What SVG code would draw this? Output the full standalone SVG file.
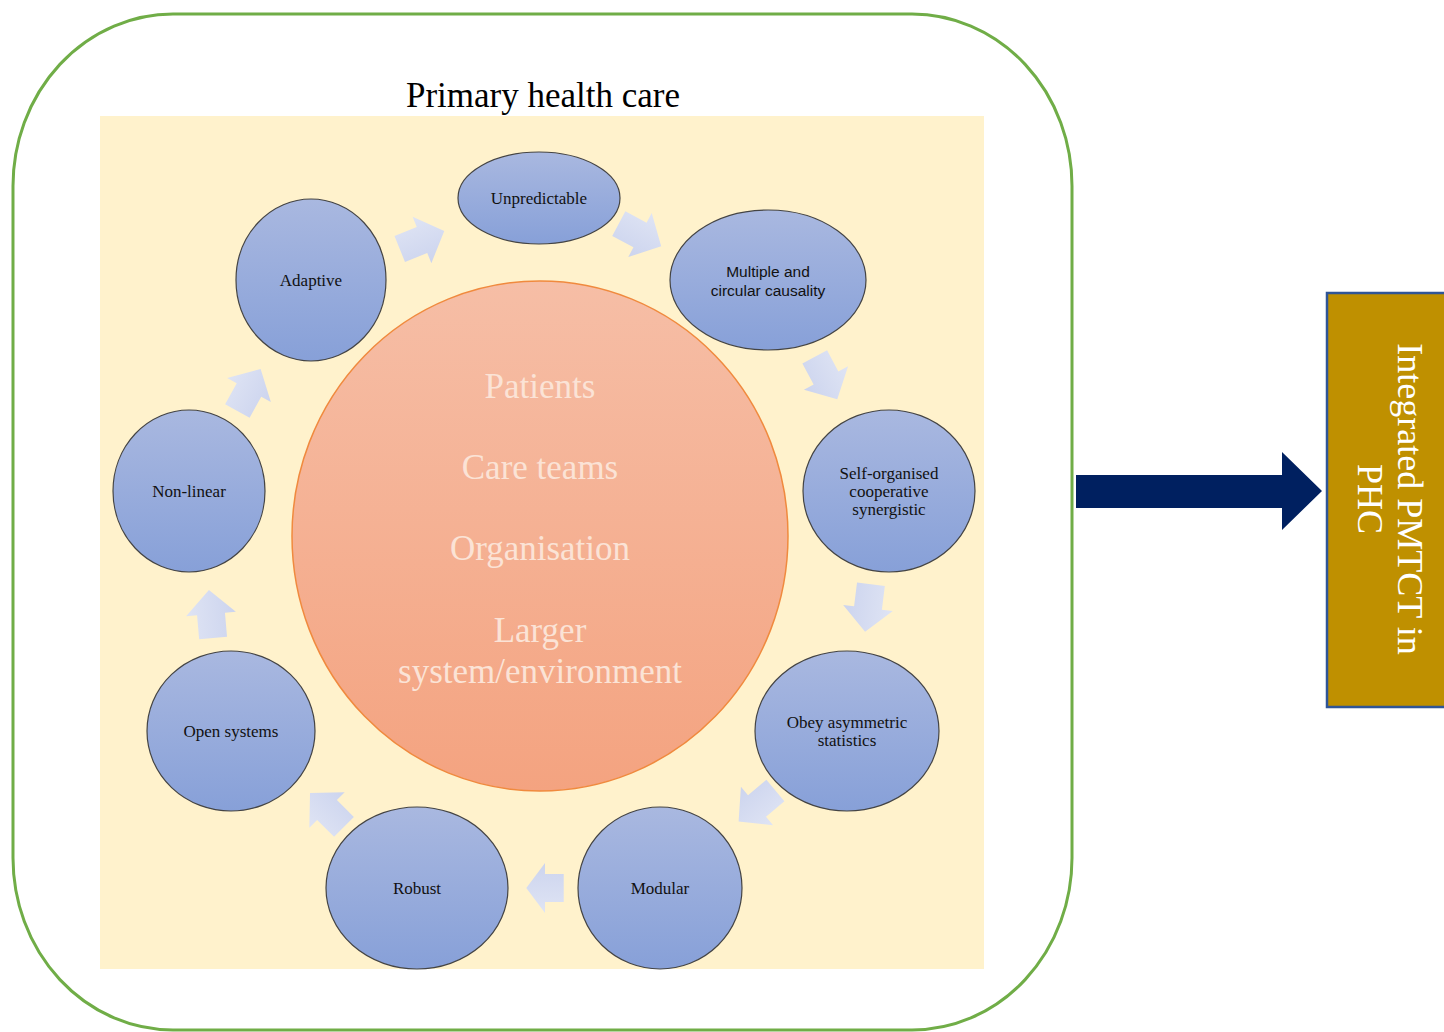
<svg xmlns="http://www.w3.org/2000/svg" width="1444" height="1032" viewBox="0 0 1444 1032">
<defs>
<linearGradient id="gBlue" x1="0" y1="0" x2="0" y2="1">
<stop offset="0" stop-color="#A9B8E0"/>
<stop offset="1" stop-color="#87A0D8"/>
</linearGradient>
<linearGradient id="gCore" x1="0" y1="0" x2="0" y2="1">
<stop offset="0" stop-color="#F6BEA6"/>
<stop offset="1" stop-color="#F4A380"/>
</linearGradient>
<linearGradient id="gArrow" x1="0" y1="0" x2="0" y2="1">
<stop offset="0" stop-color="#DFE4F4"/>
<stop offset="1" stop-color="#CCD4EE"/>
</linearGradient>
<path id="blk" d="M-24,-14 L0,-14 L0,-25 L24,0 L0,25 L0,14 L-24,14 Z"/>
</defs>
<style>
.node ellipse{fill:url(#gBlue);stroke:#444;stroke-width:1.2}
.lbl{font-family:"Liberation Serif","Times New Roman",serif;font-size:17px;fill:#111;text-anchor:middle}
.lbls{font-family:"Liberation Sans",Arial,sans-serif;font-size:15.5px;fill:#111;text-anchor:middle}
.core{font-family:"Liberation Serif","Times New Roman",serif;font-size:35px;fill:#FBE3D6;text-anchor:middle}
.arr use{fill:url(#gArrow)}
</style>
<rect x="0" y="0" width="1444" height="1032" fill="#FFFFFF"/>
<g id="outer">
<rect x="13" y="14" width="1059" height="1016" rx="160" ry="172" fill="none" stroke="#70AD47" stroke-width="3"/>
</g>
<g id="phc">
<rect x="100" y="116" width="884" height="853" fill="#FFF2CC"/>
<text x="543" y="107" font-family="Liberation Serif,'Times New Roman',serif" font-size="35" fill="#000" text-anchor="middle">Primary health care</text>
</g>
<g id="core">
<ellipse cx="540" cy="536" rx="248" ry="255" fill="url(#gCore)" stroke="#F08A3E" stroke-width="1.5"/>
<text class="core" x="540" y="398">Patients</text>
<text class="core" x="540" y="479">Care teams</text>
<text class="core" x="540" y="560">Organisation</text>
<text class="core" x="540" y="642">Larger</text>
<text class="core" x="540" y="683">system/environment</text>
</g>
<g id="connectors" class="arr">
<use href="#blk" transform="translate(422,240) rotate(-22)"/>
<use href="#blk" transform="translate(640,235) rotate(28)"/>
<use href="#blk" transform="translate(826,378) rotate(62)"/>
<use href="#blk" transform="translate(868,608) rotate(97)"/>
<use href="#blk" transform="translate(757,806) rotate(140)"/>
<use href="#blk" transform="translate(545,888) rotate(180) scale(0.78,1)"/>
<use href="#blk" transform="translate(327,810) rotate(225)"/>
<use href="#blk" transform="translate(211,614) rotate(265)"/>
<use href="#blk" transform="translate(249,390) rotate(299)"/>
<path d="M1076,475 L1282,475 L1282,452 L1322,491 L1282,530 L1282,508 L1076,508 Z" fill="#002060"/>
</g>
<g id="n-unpredictable" class="node">
<ellipse cx="539" cy="198" rx="81" ry="46"/>
<text class="lbl" x="539" y="204">Unpredictable</text>
</g>
<g id="n-multiple" class="node">
<ellipse cx="768" cy="280" rx="98" ry="70"/>
<text class="lbls" x="768" y="277">Multiple and</text>
<text class="lbls" x="768" y="296">circular causality</text>
</g>
<g id="n-self" class="node">
<ellipse cx="889" cy="491" rx="86" ry="81"/>
<text class="lbl" x="889" y="479">Self-organised</text>
<text class="lbl" x="889" y="497">cooperative</text>
<text class="lbl" x="889" y="515">synergistic</text>
</g>
<g id="n-obey" class="node">
<ellipse cx="847" cy="731" rx="92" ry="80"/>
<text class="lbl" x="847" y="728">Obey asymmetric</text>
<text class="lbl" x="847" y="746">statistics</text>
</g>
<g id="n-modular" class="node">
<ellipse cx="660" cy="888" rx="82" ry="81"/>
<text class="lbl" x="660" y="894">Modular</text>
</g>
<g id="n-robust" class="node">
<ellipse cx="417" cy="888" rx="91" ry="81"/>
<text class="lbl" x="417" y="894">Robust</text>
</g>
<g id="n-open" class="node">
<ellipse cx="231" cy="731" rx="84" ry="80"/>
<text class="lbl" x="231" y="737">Open systems</text>
</g>
<g id="n-nonlinear" class="node">
<ellipse cx="189" cy="491" rx="76" ry="81"/>
<text class="lbl" x="189" y="497">Non-linear</text>
</g>
<g id="n-adaptive" class="node">
<ellipse cx="311" cy="280" rx="75" ry="81"/>
<text class="lbl" x="311" y="286">Adaptive</text>
</g>
<g id="n-pmtct">
<rect x="1327" y="293" width="130" height="414" fill="#BF9000" stroke="#2F5597" stroke-width="2.5"/>
<g transform="translate(1384,499) rotate(90)">
<text x="0" y="-14" font-family="Liberation Serif,'Times New Roman',serif" font-size="36" fill="#FFFFFF" text-anchor="middle">Integrated PMTCT in</text>
<text x="0" y="26" font-family="Liberation Serif,'Times New Roman',serif" font-size="36" fill="#FFFFFF" text-anchor="middle">PHC</text>
</g>
</g>
</svg>
